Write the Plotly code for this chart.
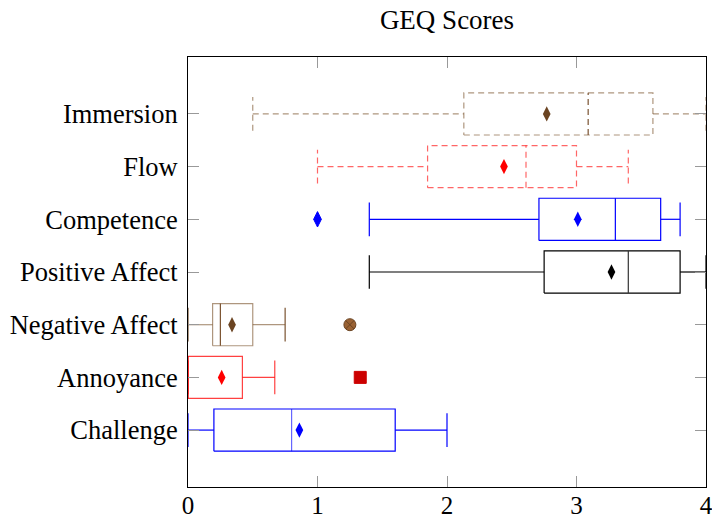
import plotly.graph_objects as go

categories = ["Challenge", "Annoyance", "Negative Affect", "Positive Affect",
              "Competence", "Flow", "Immersion"]
lower_whisker = [0.0, 0.0, 0.0, 1.40, 1.40, 1.00, 0.50]
q1 = [0.20, 0.0, 0.19, 2.75, 2.71, 1.85, 2.13]
median = [0.80, 0.0, 0.25, 3.40, 3.30, 2.61, 3.09]
q3 = [1.60, 0.42, 0.50, 3.80, 3.65, 3.00, 3.59]
upper_whisker = [2.00, 0.67, 0.75, 4.00, 3.80, 3.40, 4.00]
means = [0.86, 0.26, 0.34, 3.27, 3.01, 2.44, 2.77]
outlier_cat = ["Annoyance", "Negative Affect", "Competence"]
outlier_val = [1.33, 1.25, 1.00]

# styles
box_color = ["#0000FF", "rgba(255,0,0,0.75)", "rgba(120,80,40,0.6)", "#000000",
             "#0000FF", "rgba(255,0,0,0.6)", "rgba(120,80,40,0.6)"]
med_color = ["rgba(0,0,255,0.6)", "rgba(255,0,0,0.75)", "#7A5230", "#333333",
             "#0000FF", "rgba(255,0,0,0.6)", "#7A5230"]
cap_color = ["#0000FF", "rgba(255,0,0,0.75)", "#7A5230", "#000000",
             "#0000FF", "rgba(255,0,0,0.6)", "rgba(120,80,40,0.6)"]
mean_color = ["#0000FF", "#FF0000", "#6B4422", "#000000", "#0000FF", "#FF0000", "#6B4422"]
dash = ["solid", "solid", "solid", "solid", "solid", "6px,4px", "6px,4px"]
outlier_symbol = ["square", "circle-x", "diamond-tall"]
outlier_color = ["#CC0000", "#9A6233", "#0000FF"]
outlier_line = ["#CC0000", "#6B4422", "#0000FF"]

BOX_H = 0.4
CAP_H = 0.32

fig = go.Figure()
for i, c in enumerate(categories):
    y = i + 1
    ln = dict(color=box_color[i], width=1.2, dash=dash[i])
    fig.add_trace(go.Scatter(x=[lower_whisker[i], q1[i], None, q3[i], upper_whisker[i]],
                             y=[y, y, None, y, y], mode="lines", line=ln,
                             hoverinfo="skip", showlegend=False))
    fig.add_trace(go.Scatter(x=[lower_whisker[i], lower_whisker[i], None, upper_whisker[i], upper_whisker[i]],
                             y=[y - CAP_H, y + CAP_H, None, y - CAP_H, y + CAP_H], mode="lines",
                             line=dict(color=cap_color[i], width=1.2, dash=dash[i]),
                             hoverinfo="skip", showlegend=False))
    fig.add_trace(go.Scatter(x=[q1[i], q3[i], q3[i], q1[i], q1[i]],
                             y=[y - BOX_H, y - BOX_H, y + BOX_H, y + BOX_H, y - BOX_H],
                             mode="lines", line=ln, hoverinfo="skip", showlegend=False))
    fig.add_trace(go.Scatter(x=[median[i], median[i]], y=[y - BOX_H, y + BOX_H], mode="lines",
                             line=dict(color=med_color[i], width=1.2, dash=dash[i]),
                             hoverinfo="skip", showlegend=False))
    fig.add_trace(go.Scatter(x=[means[i]], y=[y], mode="markers",
                             marker=dict(symbol="diamond-tall", size=11, color=mean_color[i],
                                         line=dict(width=0)),
                             hoverinfo="skip", showlegend=False))

for j, c in enumerate(outlier_cat):
    y = categories.index(c) + 1
    fig.add_trace(go.Scatter(x=[outlier_val[j]], y=[y], mode="markers",
                             marker=dict(symbol=outlier_symbol[j], size=12 if j < 2 else 11,
                                         color=outlier_color[j],
                                         line=dict(width=1, color=outlier_line[j])),
                             hoverinfo="skip", showlegend=False))

font = dict(family="Liberation Serif, Times New Roman, serif", size=26.5, color="black")
xfont = dict(family=font["family"], size=25, color="black")
fig.update_layout(
    width=712, height=521,
    margin=dict(l=188, r=6, t=57, b=34, autoexpand=False),
    plot_bgcolor="white", paper_bgcolor="white",
    font=font,
    title=dict(text="GEQ Scores", x=0.5, xref="paper", xanchor="center", y=0.962,
               yanchor="middle", yref="container", font=dict(family=font["family"], size=27)),
    xaxis=dict(range=[0, 4], tickvals=[0, 1, 2, 3, 4], ticks="inside", ticklen=11,
               tickcolor="#999999", showline=True, linecolor="black", linewidth=1,
               mirror="ticks", showgrid=False, zeroline=False, tickfont=xfont,
               automargin=False, ticklabeloverflow="allow", ticklabelstandoff=-4),
    yaxis=dict(range=[-0.08, 8.08], tickvals=list(range(1, 8)), ticktext=categories,
               ticks="inside", ticklen=11, tickcolor="#999999", showline=True,
               linecolor="black", linewidth=1, mirror="ticks", showgrid=False,
               zeroline=False, tickfont=font, automargin=False, ticklabelstandoff=4),
)
fig.write_html("out.html")
